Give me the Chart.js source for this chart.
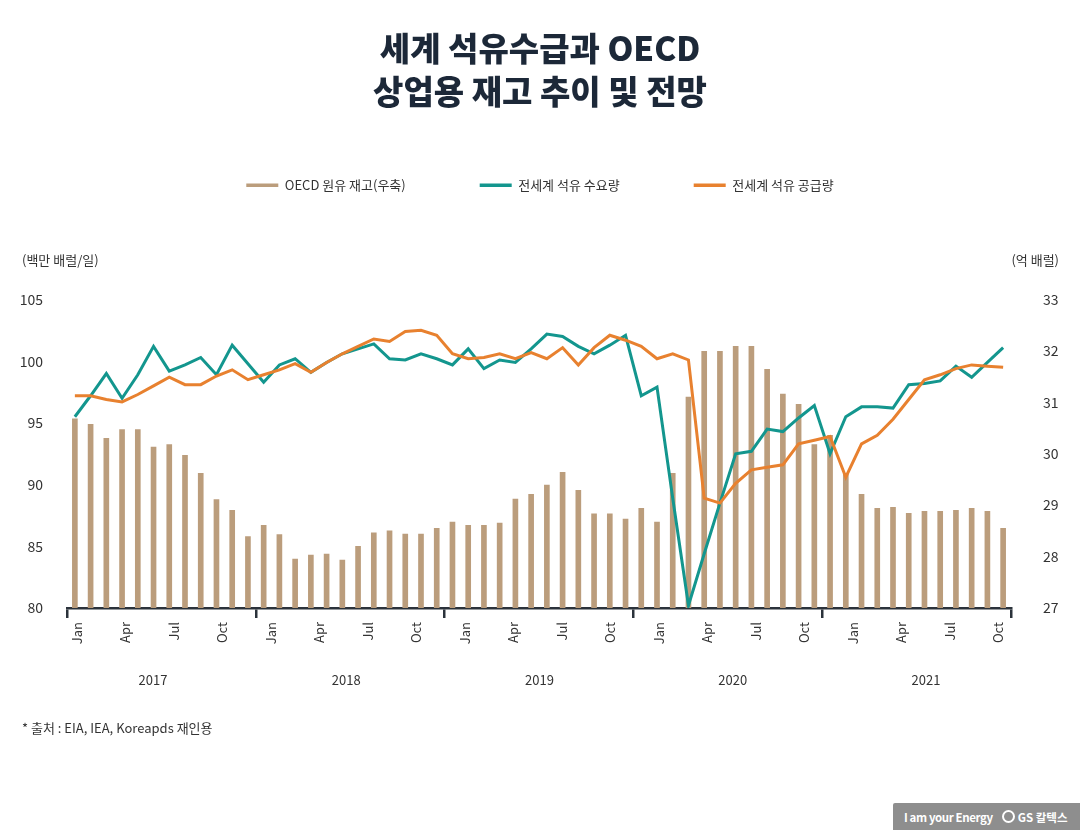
<!DOCTYPE html>
<html>
<head>
<meta charset="utf-8">
<script src="https://cdn.jsdelivr.net/npm/chart.js@4.4.1/dist/chart.umd.min.js"></script>
<style>
html,body{margin:0;padding:0;background:#ffffff;}
#wrap{position:relative;width:1080px;height:830px;overflow:hidden;}
#logo{position:absolute;left:893px;top:803px;width:187px;height:27px;background:#8e8e8e;border-radius:2px 0 0 0;color:#fff;
  font-family:'Noto Sans CJK KR','Noto Sans',sans-serif;font-weight:bold;font-size:11.5px;display:flex;align-items:center;white-space:nowrap;}
#logo .ring{display:inline-block;width:9px;height:9px;border:2px solid #fff;border-radius:50%;margin-left:9px;margin-right:3px;}
</style>
</head>
<body>
<div id="wrap">
<canvas id="chart" width="1080" height="830"></canvas>
<div id="logo"><span style="margin-left:11px;letter-spacing:-0.4px">I am your Energy</span><span class="ring"></span><span>GS 칼텍스</span></div>
</div>
<script>
// ---------- data ----------
const titleLines = ['세계 석유수급과 OECD', '상업용 재고 추이 및 전망'];
const seriesNames = ['OECD 원유 재고(우축)', '전세계 석유 수요량', '전세계 석유 공급량'];
const unitLeft = '(백만 배럴/일)';
const unitRight = '(억 배럴)';
const sourceNote = '* 출처 : EIA, IEA, Koreapds 재인용';

const months = [
  '2017-01','2017-02','2017-03','2017-04','2017-05','2017-06','2017-07','2017-08','2017-09','2017-10','2017-11','2017-12',
  '2018-01','2018-02','2018-03','2018-04','2018-05','2018-06','2018-07','2018-08','2018-09','2018-10','2018-11','2018-12',
  '2019-01','2019-02','2019-03','2019-04','2019-05','2019-06','2019-07','2019-08','2019-09','2019-10','2019-11','2019-12',
  '2020-01','2020-02','2020-03','2020-04','2020-05','2020-06','2020-07','2020-08','2020-09','2020-10','2020-11','2020-12',
  '2021-01','2021-02','2021-03','2021-04','2021-05','2021-06','2021-07','2021-08','2021-09','2021-10','2021-11','2021-12'
];

// OECD commercial stocks (억 배럴, right axis)
const oecdStocks = [
  30.68, 30.57, 30.30, 30.47, 30.47, 30.13, 30.18, 29.97, 29.62, 29.11, 28.90, 28.39,
  28.61, 28.43, 27.95, 28.03, 28.05, 27.93, 28.20, 28.46, 28.50, 28.44, 28.44, 28.55,
  28.67, 28.61, 28.61, 28.65, 29.12, 29.21, 29.39, 29.64, 29.29, 28.83, 28.83, 28.73,
  28.94, 28.67, 29.62, 31.10, 31.99, 31.99, 32.09, 32.09, 31.64, 31.16, 30.96, 30.18,
  30.36, 29.62, 29.21, 28.94, 28.96, 28.84, 28.88, 28.88, 28.90, 28.94, 28.88, 28.55
];

// World oil demand (백만 배럴/일, left axis)
const worldDemand = [
  95.5, 97.2, 99.0, 97.0, 98.9, 101.2, 99.2, 99.7, 100.3, 98.9, 101.3, 99.8,
  98.3, 99.7, 100.2, 99.1, 99.9, 100.6, 101.0, 101.4, 100.2, 100.1, 100.6, 100.2,
  99.7, 101.0, 99.4, 100.1, 99.9, 101.0, 102.2, 102.0, 101.2, 100.6, 101.3, 102.1,
  97.2, 97.9, 88.9, 80.2, 84.4, 88.5, 92.5, 92.7, 94.5, 94.3, 95.4, 96.4,
  92.5, 95.5, 96.3, 96.3, 96.2, 98.1, 98.2, 98.4, 99.6, 98.7, 99.9, 101.1
];

// World oil supply (백만 배럴/일, left axis)
const worldSupply = [
  97.2, 97.2, 96.9, 96.7, 97.3, 98.0, 98.7, 98.1, 98.1, 98.8, 99.3, 98.5,
  98.9, 99.3, 99.8, 99.1, 99.9, 100.6, 101.2, 101.8, 101.6, 102.4, 102.5, 102.1,
  100.6, 100.2, 100.3, 100.6, 100.2, 100.7, 100.2, 101.1, 99.7, 101.1, 102.1, 101.7,
  101.2, 100.2, 100.6, 100.1, 88.9, 88.5, 90.1, 91.2, 91.4, 91.6, 93.3, 93.6,
  93.9, 90.6, 93.3, 94.0, 95.3, 96.9, 98.5, 98.9, 99.4, 99.7, 99.6, 99.5
];

// tick labels
const monthTickLabels = [
  'Jan','Apr','Jul','Oct','Jan','Apr','Jul','Oct','Jan','Apr','Jul','Oct',
  'Jan','Apr','Jul','Oct','Jan','Apr','Jul','Oct'
];
const yearLabels = ['2017', '2018', '2019', '2020', '2021'];

// ---------- style ----------
const FONT = "'Noto Sans CJK KR','Noto Sans',sans-serif";
const C_BAR = '#bb9d7c';
const C_DEMAND = '#13968e';
const C_SUPPLY = '#e8812f';
const C_AXIS = '#2b323b';
const C_TEXT = '#333333';
const seriesColors = [C_BAR, C_DEMAND, C_SUPPLY];

const extraText = {
  id: 'extraText',
  afterDraw(chart) {
    const ctx = chart.ctx;
    ctx.save();
    ctx.font = '13px ' + FONT;
    ctx.fillStyle = C_TEXT;
    ctx.textBaseline = 'middle';
    ctx.textAlign = 'left';
    ctx.fillText(unitLeft, 22, 260);
    ctx.textAlign = 'right';
    ctx.fillText(unitRight, 1059, 260);
    ctx.textAlign = 'left';
    ctx.fillText(sourceNote, 22, 728);
    ctx.restore();
  }
};

const chart = new Chart(document.getElementById('chart'), {
  type: 'bar',
  data: {
    labels: months,
    datasets: [
      { type: 'bar', label: seriesNames[0], data: oecdStocks, xAxisID: 'x', yAxisID: 'y1',
        backgroundColor: C_BAR, borderWidth: 0, barThickness: 5, order: 3 },
      { type: 'line', label: seriesNames[1], data: worldDemand, xAxisID: 'x', yAxisID: 'y',
        borderColor: C_DEMAND, backgroundColor: C_DEMAND, borderWidth: 3, pointRadius: 0, tension: 0, order: 2 },
      { type: 'line', label: seriesNames[2], data: worldSupply, xAxisID: 'x', yAxisID: 'y',
        borderColor: C_SUPPLY, backgroundColor: C_SUPPLY, borderWidth: 3, pointRadius: 0, tension: 0, order: 1 }
    ]
  },
  options: {
    responsive: false,
    animation: false,
    devicePixelRatio: 1,
    layout: { padding: { top: 0, left: 0, right: 0, bottom: 130 } },
    plugins: {
      tooltip: { enabled: false },
      title: {
        display: true,
        text: titleLines,
        color: '#1c2838',
        font: { family: FONT, size: 33, weight: '900', lineHeight: 1.3 },
        padding: { top: 27, bottom: -8 }
      },
      legend: {
        display: true,
        position: 'top',
        labels: {
          color: C_TEXT,
          font: { family: FONT, size: 13 },
          usePointStyle: true,
          pointStyleWidth: 32,
          padding: 74,
          generateLabels(chart) {
            const items = Chart.defaults.plugins.legend.labels.generateLabels(chart);
            items.sort((a, b) => a.datasetIndex - b.datasetIndex);
            items.forEach((it) => {
              const col = seriesColors[it.datasetIndex];
              it.pointStyle = 'line';
              it.strokeStyle = col;
              it.fillStyle = col;
              it.lineWidth = 3.5;
            });
            return items;
          },
          sort: (a, b) => a.datasetIndex - b.datasetIndex
        }
      }
    },
    scales: {
      xs: {
        type: 'category', position: 'top', display: true,
        grid: { display: false, drawTicks: false }, border: { display: false },
        ticks: { display: false },
        afterFit(s) { s.height = 97.7; }
      },
      x: {
        type: 'category', position: 'bottom', offset: true, weight: 0,
        border: { display: true, color: C_AXIS, width: 2.5 },
        grid: {
          display: true, drawOnChartArea: false, drawTicks: true, tickLength: 10, offset: true, lineWidth: 2.5,
          color: (ctx) => (ctx.type !== 'tick' || ctx.index % 12 === 0) ? C_AXIS : 'rgba(0,0,0,0)'
        },
        ticks: { display: false, autoSkip: false },
        afterFit(s) { s.height = 10; }
      },
      xm: {
        type: 'linear', position: 'bottom', weight: 1, offset: false,
        min: -0.619, max: 57.80,
        grid: { display: false, drawTicks: false, offset: false }, border: { display: false },
        afterBuildTicks(s) { s.ticks = monthTickLabels.map((_, i) => ({ value: i * 3 })); },
        ticks: {
          autoSkip: false, minRotation: 90, maxRotation: 90, padding: 4,
          color: C_TEXT, font: { family: FONT, size: 13 },
          callback: (v, i) => monthTickLabels[i]
        },
        afterFit(s) { s.height = 42; }
      },
      xy: {
        type: 'linear', position: 'bottom', weight: 2, offset: false,
        min: -0.445, max: 4.44,
        grid: { display: false, drawTicks: false, offset: false }, border: { display: false },
        afterBuildTicks(s) { s.ticks = yearLabels.map((_, i) => ({ value: i })); },
        ticks: {
          autoSkip: false, maxRotation: 0, minRotation: 0, padding: 12,
          color: C_TEXT, font: { family: FONT, size: 13 },
          callback: (v, i) => yearLabels[i]
        },
        afterFit(s) { s.height = 40; }
      },
      y: {
        type: 'linear', position: 'left', min: 80, max: 105,
        grid: { display: false, drawTicks: false }, border: { display: false },
        ticks: { stepSize: 5, padding: 24, color: C_TEXT, font: { family: FONT, size: 14 } },
        afterFit(s) { s.width = 67; }
      },
      y1: {
        type: 'linear', position: 'right', min: 27, max: 33,
        grid: { display: false, drawTicks: false }, border: { display: false },
        ticks: { stepSize: 1, padding: 32, color: C_TEXT, font: { family: FONT, size: 14 } },
        afterFit(s) { s.width = 69; }
      }
    }
  },
  plugins: [extraText]
});
</script>
</body>
</html>
